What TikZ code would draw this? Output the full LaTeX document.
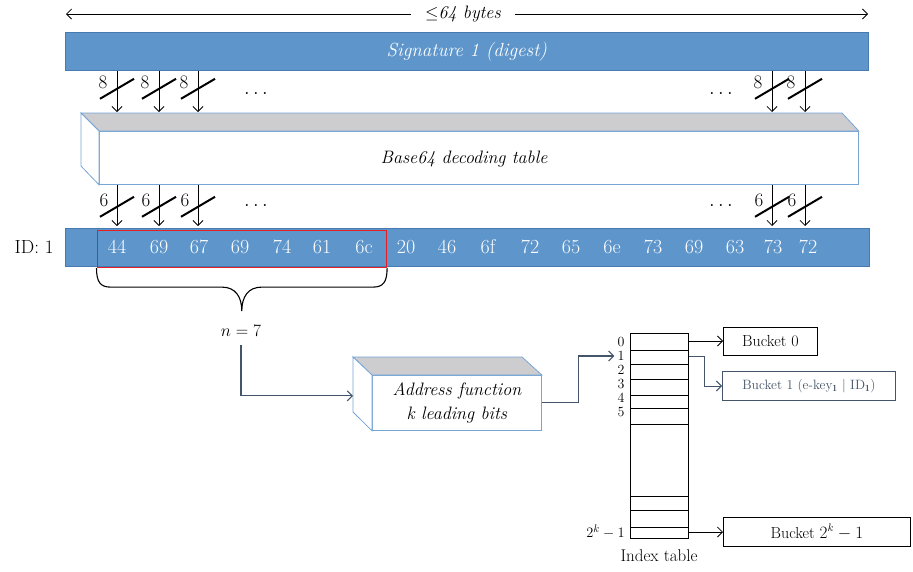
\documentclass[tikz,border=0pt]{standalone}
\usepackage{fontspec}
\usetikzlibrary{positioning,calc,arrows.meta}

\definecolor{azulbarra}{RGB}{94,149,202}
\definecolor{bordebarra}{RGB}{72,122,178}
\definecolor{azulclaro}{RGB}{118,165,214}
\definecolor{grisTapa}{RGB}{205,205,207}
\definecolor{pizarra}{RGB}{68,84,106}
\definecolor{rojo}{RGB}{230,30,36}

\tikzset{
  barra/.style={draw=bordebarra, fill=azulbarra, text=white, inner sep=0pt},
  grande/.style={font=\fontsize{18}{24}\selectfont\itshape},
  hexa/.style={text=white, font=\fontsize{20}{22}\selectfont},
  bits/.style={font=\fontsize{19}{20}\selectfont, inner sep=1pt},
  puntos/.style={font=\fontsize{20}{20}\selectfont},
  etiq/.style={font=\fontsize{14}{15}\selectfont, inner sep=1pt},
  cubeta/.style={draw, font=\fontsize{16}{18}\selectfont, inner sep=0pt},
  conector/.style={draw=pizarra, line width=1.1pt, ->},
}

\begin{document}
\begin{tikzpicture}[x=1pt, y=-1pt, line width=0.8pt,
    >={Straight Barb[length=5pt,width=10pt]}]
  \useasboundingbox (0,0) rectangle (913,571);

  % Ancho total
  \coordinate (izq) at (66,14);
  \coordinate (der) at (868,14);
  \node[grande, fill=white, inner xsep=14pt] (ancho) at (463,14) {$\leq$64 bytes};
  \draw[->] (ancho) -- (izq);
  \draw[->] (ancho) -- (der);

  % Firma
  \node[barra, grande, font=\fontsize{19}{24}\selectfont\itshape,
    minimum width=803, minimum height=38, anchor=north west]
    (sig) at (65,32) {Signature 1 (digest)};

  % Tabla de decodificacion
  \node[draw=azulclaro, fill=white, minimum width=759, minimum height=53,
    anchor=north west] (b64) at (99,131) {};
  \filldraw[draw=azulclaro, fill=grisTapa] (b64.north west) -- ++(-18,-18)
    -- ++(761,0) -- (b64.north east) -- cycle;
  \filldraw[draw=azulclaro, fill=white] (b64.north west) -- ++(-18,-18)
    -- ++(0,53) -- (b64.south west) -- cycle;
  \node[grande] (b64txt) at (464,159) {Base64 decoding table};
  \coordinate (tapa) at (463,112);

  % Flechas de 8 bits
  \foreach \x [count=\i] in {117,159,198,772,805}{
    \coordinate (x\i) at (\x,0);
    \draw[->] (sig.south -| x\i) -- (tapa -| x\i);
    \draw[line width=2pt] ($(sig.south -| x\i)+(-17,28)$) -- ++(34,-20);
    \node[bits] (ocho\i) at ($(sig.south -| x\i)+(-14,12)$) {8};
  }
  \node[puntos] (p1) at (256,93) {$\dots$};
  \node[puntos] (p2) at (721,93) {$\dots$};

  % Barra ID
  \node[barra, minimum width=804, minimum height=38, anchor=north west]
    (idbar) at (65,228) {};
  \node[bits, left=10pt of idbar.west] (id) {ID: 1};
  \foreach \x/\v [count=\i] in {117/44,159/69,199/67,240/69,282/74,322/61,364/6c,
      406/20,447/46,488/6f,530/72,571/65,612/6e,653/73,694/69,735/63,773/73,808/72}
    \node[hexa] (h\i) at (\x,247) {\v};

  % Flechas de 6 bits
  \foreach \i in {1,...,5}{
    \draw[->, shorten >=2pt] (b64.south -| x\i) -- (idbar.north -| x\i);
    \draw[line width=2pt] ($(b64.south -| x\i)+(-17,32)$) -- ++(34,-20);
    \node[bits] (seis\i) at ($(b64.south -| x\i)+(-13,16)$) {6};
  }
  \node[puntos] (p3) at (256,205) {$\dots$};
  \node[puntos] (p4) at (721,205) {$\dots$};

  % Seleccion de n caracteres
  \node[draw=rojo, line width=1.6pt, minimum width=289, minimum height=37,
    anchor=north west, inner sep=0pt] (sel) at (96.5,229.5) {};
  % Llave
  \draw[line width=1.1pt] (sel.south west)
    .. controls +(0,14) and +(-10,0) .. ++(14,19)
    -- ($(sel.south)+(-20,19)$)
    .. controls +(14,0) and +(0,-14) .. ($(sel.south)+(0,43)$)
    .. controls +(0,-14) and +(-14,0) .. ($(sel.south)+(20,19)$)
    -- ($(sel.south east)+(-14,19)$)
    .. controls +(10,0) and +(0,14) .. (sel.south east);
  \node[font=\fontsize{18}{20}\selectfont] (n) at (241,331) {$n = 7$};

  % Funcion de direccion
  \node[draw=azulclaro, fill=white, grande, align=center, minimum width=169,
    minimum height=55, anchor=north west] (addr) at (372,375)
    {Address function\\k leading bits};
  \filldraw[draw=azulclaro, fill=grisTapa] (addr.north west) -- ++(-19,-18)
    -- ++(169,0) -- (addr.north east) -- cycle;
  \filldraw[draw=azulclaro, fill=white] (addr.north west) -- ++(-19,-18)
    -- ++(0,55) -- (addr.south west) -- cycle;
  \draw[conector, shorten <=5pt] (n.south) |- ([xshift=-19pt, yshift=7pt]addr.west);

  % Tabla de indices
  \node[draw, minimum width=58, minimum height=205, anchor=north west,
    inner sep=0pt] (tabla) at (630,333) {};
  \foreach \y in {350,364,379,395,408,424,496,510,527}
    \draw (630,\y) -- (688,\y);
  \foreach \y/\t [count=\i from 0] in {342/0,356/1,370/2,384/3,398/4,412/5}
    \node[etiq, anchor=east] (l\i) at (626,\y) {\t};
  \node[etiq, font=\fontsize{15}{16}\selectfont, anchor=east] (lk) at (626,532) {$2^k - 1$};
  \node[font=\fontsize{17}{20}\selectfont] (titulo) at (659,556) {Index table};
  \draw[conector, shorten >=2pt] (addr.east) -- ++(37,0) |- (l1.west);

  % Cubetas
  \node[cubeta, minimum width=94, minimum height=28, anchor=west] (c0)
    at (723,341) {Bucket 0};
  \node[cubeta, draw=pizarra, text=pizarra, font=\fontsize{13.5}{16}\selectfont,
    minimum width=173, minimum height=29, anchor=west] (c1)
    at (722,386) {Bucket 1 (e-key$_{\mathbf{1}}$ | ID$_{\mathbf{1}}$)};
  \node[cubeta, minimum width=187, minimum height=29, anchor=west] (ck)
    at (723,532) {Bucket $2^k - 1$};
  \draw[->] (tabla.east |- c0) -- (c0);
  \draw[conector, line width=0.9pt] (tabla.east |- l1) -- ++(16,0) |- (c1);
  \draw[->] (tabla.east |- ck) -- (ck);
\end{tikzpicture}
\end{document}
